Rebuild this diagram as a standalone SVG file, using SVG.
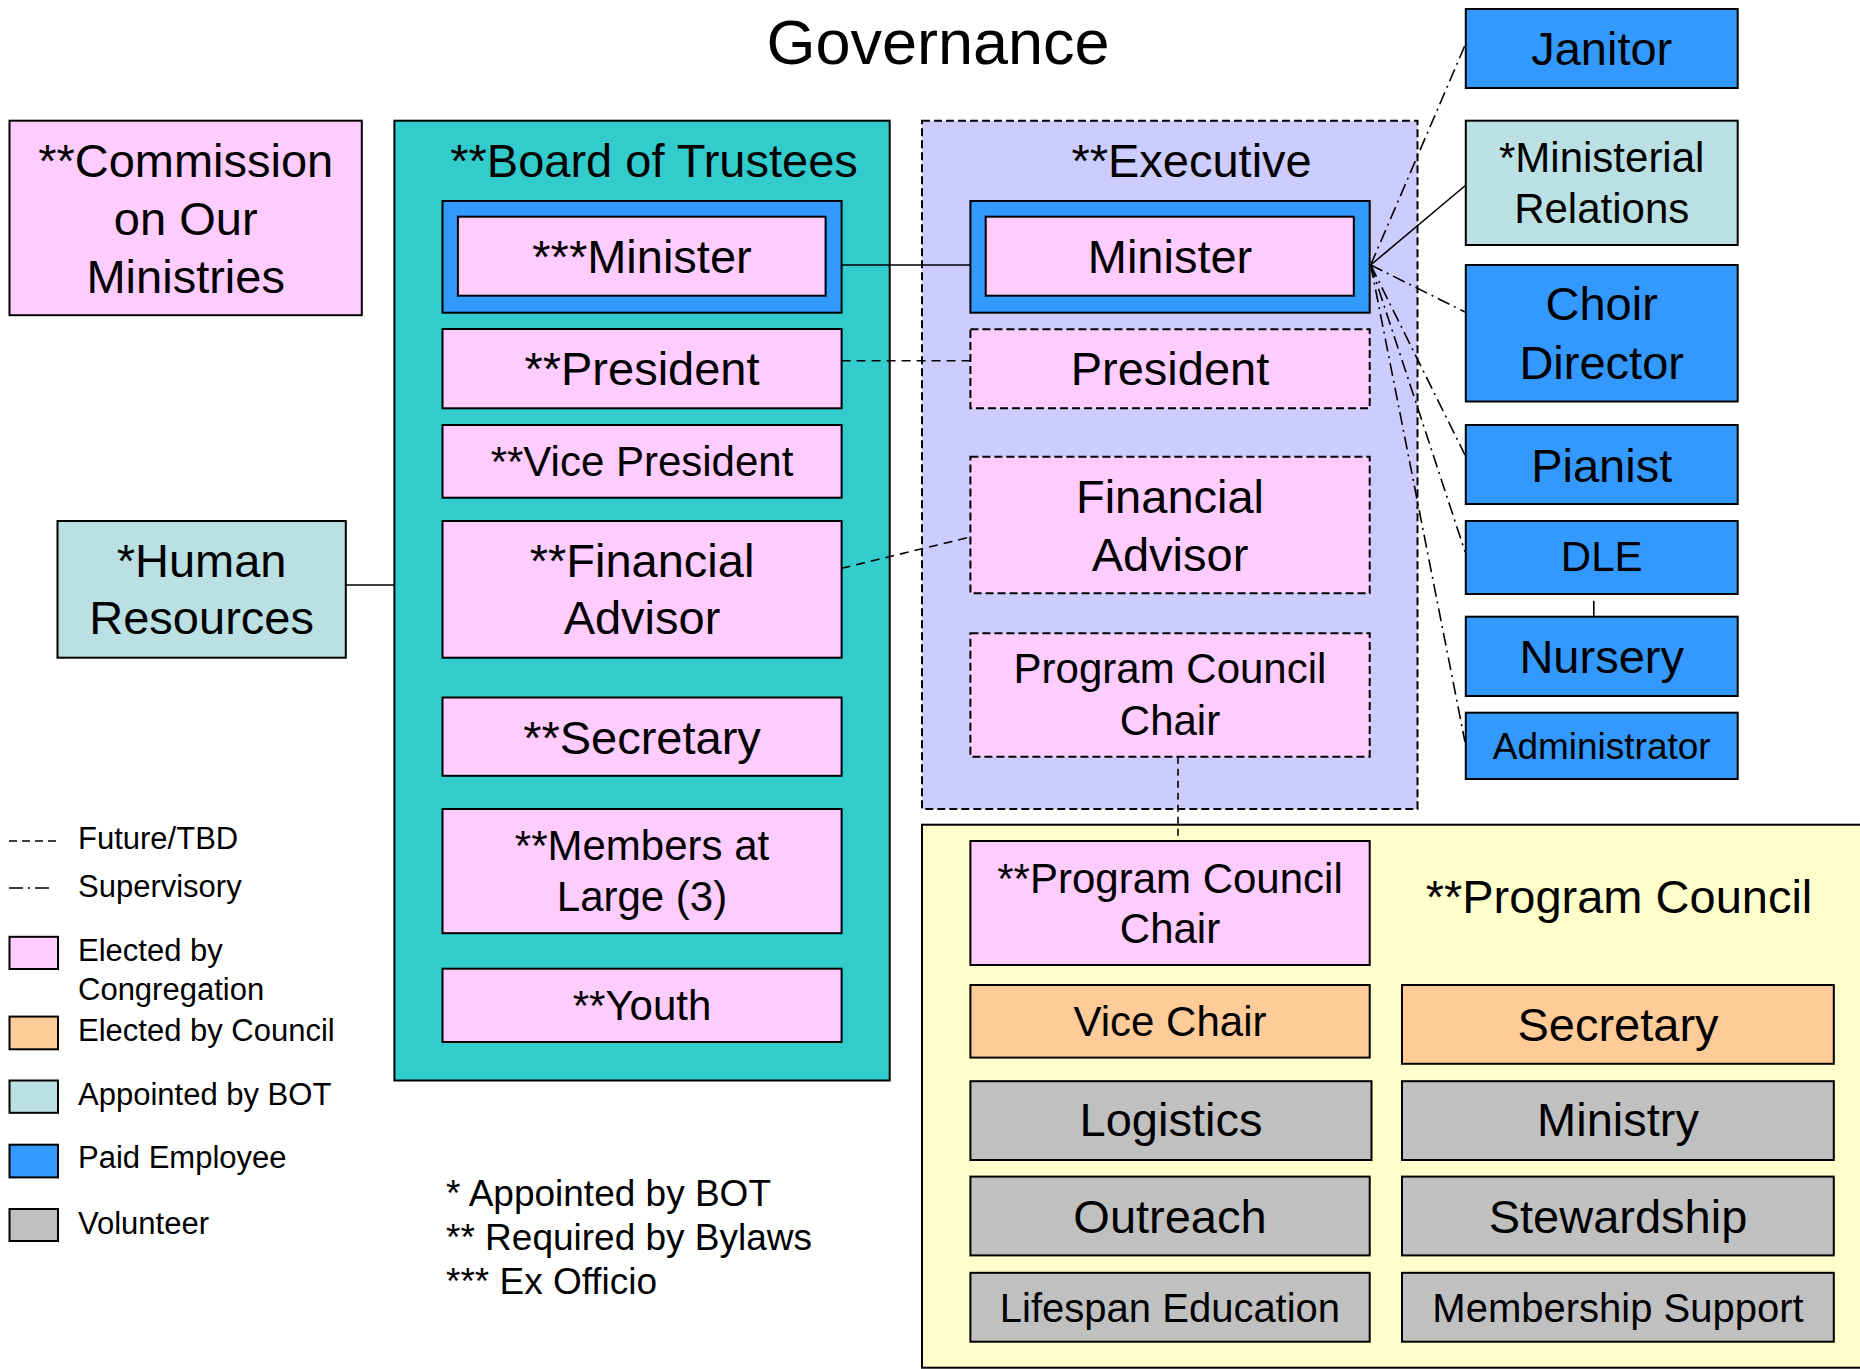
<svg xmlns="http://www.w3.org/2000/svg" width="1860" height="1369" viewBox="0 0 1860 1369">
<style>
rect{stroke:#000;stroke-width:2}
rect.bg{stroke:none;fill:#fff}
.d{stroke-dasharray:8 4}
.pk{fill:#FFCCFF}.tl{fill:#33CCCC}.bl{fill:#3399FF}.lb{fill:#BBE0E3}.lv{fill:#CCCCFF}.yl{fill:#FFFFCC}.or{fill:#FFCC99}.gy{fill:#C0C0C0}
text{font-family:"Liberation Sans",Arial,sans-serif;fill:#000}
.c{text-anchor:middle}
.s63{font-size:63px}.s47{font-size:47px}.s42{font-size:42px}.s40{font-size:40px}.s37{font-size:37px}.s31{font-size:31px}
.ln{stroke:#000;stroke-width:1.6;fill:none}
.dl{stroke-dasharray:9 6}
.dd{stroke-dasharray:13 5 2 5}
</style>
<rect class="bg" width="1860" height="1369"/>
<text class="c s63" x="938" y="64">Governance</text>

<g id="commission">
<rect class="pk" x="9.5" y="120.7" width="352.3" height="194.5"/>
<text class="c s47" x="185.7" y="177">**Commission</text>
<text class="c s47" x="185.7" y="235">on Our</text>
<text class="c s47" x="185.7" y="293">Ministries</text>
</g>

<g id="board-of-trustees">
<rect class="tl" x="394.4" y="120.7" width="495.3" height="959.8"/>
<text class="c s47" x="654" y="177">**Board of Trustees</text>
</g>

<g id="executive">
<rect class="lv d" x="922" y="120.7" width="495.5" height="688.3"/>
<text class="c s47" x="1191.6" y="177">**Executive</text>
</g>

<g id="program-council">
<rect class="yl" x="922" y="824.7" width="945" height="543"/>
<text class="c s47" x="1619" y="912.5">**Program Council</text>
</g>

<g id="connectors">
<line class="ln" x1="841.6" y1="265" x2="970.4" y2="265"/>
<line class="ln dl" x1="841.6" y1="360.7" x2="970.4" y2="360.7"/>
<line class="ln dl" x1="841.6" y1="568.3" x2="970.4" y2="537"/>
<line class="ln" x1="345.8" y1="585" x2="394.4" y2="585"/>
<line class="ln" x1="1178" y1="756.7" x2="1178" y2="840.7" stroke-dasharray="7 5"/>
<line class="ln" x1="1370.7" y1="265" x2="1466" y2="185"/>
<line class="ln dd" x1="1370.7" y1="265" x2="1466" y2="43"/>
<line class="ln dd" x1="1370.7" y1="265" x2="1465" y2="312"/>
<line class="ln dd" x1="1370.7" y1="265" x2="1465" y2="455"/>
<line class="ln dd" x1="1370.7" y1="265" x2="1465" y2="551.7"/>
<line class="ln dd" x1="1370.7" y1="265" x2="1465" y2="742"/>
<line class="ln" x1="1593.8" y1="600.7" x2="1593.8" y2="616.7"/>
</g>

<g id="bot-minister">
<rect class="bl" x="442.5" y="201" width="399.1" height="111.7"/>
<rect class="pk" x="457.9" y="216.7" width="367.7" height="79"/>
<text class="c s47" x="642" y="273">***Minister</text>
</g>
<g id="bot-president">
<rect class="pk" x="442.5" y="329" width="399.1" height="79.3"/>
<text class="c s47" x="642" y="385">**President</text>
</g>
<g id="bot-vice-president">
<rect class="pk" x="442.5" y="425" width="399.1" height="72.7"/>
<text class="c s42" x="642" y="476">**Vice President</text>
</g>
<g id="bot-financial-advisor">
<rect class="pk" x="442.5" y="521" width="399.1" height="136.7"/>
<text class="c s47" x="642" y="576.7">**Financial</text>
<text class="c s47" x="642" y="634.3">Advisor</text>
</g>
<g id="bot-secretary">
<rect class="pk" x="442.5" y="697.5" width="399.1" height="78.3"/>
<text class="c s47" x="642" y="754">**Secretary</text>
</g>
<g id="bot-members-at-large">
<rect class="pk" x="442.5" y="809" width="399.1" height="124.2"/>
<text class="c s42" x="642" y="860">**Members at</text>
<text class="c s42" x="642" y="910.7">Large (3)</text>
</g>
<g id="bot-youth">
<rect class="pk" x="442.5" y="968.7" width="399.1" height="73.3"/>
<text class="c s42" x="642" y="1019.5">**Youth</text>
</g>

<g id="human-resources">
<rect class="lb" x="57.5" y="521" width="288.3" height="136.7"/>
<text class="c s47" x="201.6" y="576.7">*Human</text>
<text class="c s47" x="201.6" y="634.3">Resources</text>
</g>

<g id="exec-minister">
<rect class="bl" x="970.4" y="201" width="399.3" height="111.7"/>
<rect class="pk" x="985.7" y="216.7" width="368.1" height="79"/>
<text class="c s47" x="1170" y="273">Minister</text>
</g>
<g id="exec-president">
<rect class="pk d" x="970.4" y="329.3" width="399.3" height="79"/>
<text class="c s47" x="1170" y="385">President</text>
</g>
<g id="exec-financial-advisor">
<rect class="pk d" x="970.4" y="456.7" width="399.3" height="136.6"/>
<text class="c s47" x="1170" y="513.3">Financial</text>
<text class="c s47" x="1170" y="570.7">Advisor</text>
</g>
<g id="exec-program-council-chair">
<rect class="pk d" x="970.4" y="633.3" width="399.3" height="123.4"/>
<text class="c s42" x="1170" y="683.3">Program Council</text>
<text class="c s42" x="1170" y="735">Chair</text>
</g>

<g id="janitor">
<rect class="bl" x="1465.8" y="9" width="271.9" height="79"/>
<text class="c s47" x="1601.7" y="65">Janitor</text>
</g>
<g id="ministerial-relations">
<rect class="lb" x="1465.8" y="120.7" width="271.9" height="124.3"/>
<text class="c s42" x="1601.7" y="172.3">*Ministerial</text>
<text class="c s42" x="1601.7" y="223.3">Relations</text>
</g>
<g id="choir-director">
<rect class="bl" x="1465.8" y="265" width="271.9" height="136.5"/>
<text class="c s47" x="1601.7" y="320">Choir</text>
<text class="c s47" x="1601.7" y="379.3">Director</text>
</g>
<g id="pianist">
<rect class="bl" x="1465.8" y="425" width="271.9" height="79"/>
<text class="c s47" x="1601.7" y="481.7">Pianist</text>
</g>
<g id="dle">
<rect class="bl" x="1465.8" y="521" width="271.9" height="73"/>
<text class="c s42" x="1601.7" y="570.7">DLE</text>
</g>
<g id="nursery">
<rect class="bl" x="1465.8" y="616.7" width="271.9" height="79.3"/>
<text class="c s47" x="1601.7" y="673.3">Nursery</text>
</g>
<g id="administrator">
<rect class="bl" x="1465.8" y="712.7" width="271.9" height="66.3"/>
<text class="c s37" x="1601.7" y="759.3">Administrator</text>
</g>

<g id="pc-chair">
<rect class="pk" x="970.4" y="841" width="399.3" height="124"/>
<text class="c s42" x="1170" y="892.5">**Program Council</text>
<text class="c s42" x="1170" y="943.3">Chair</text>
</g>
<g id="pc-vice-chair">
<rect class="or" x="970.4" y="985" width="399.3" height="72.6"/>
<text class="c s42" x="1170" y="1035.8">Vice Chair</text>
</g>
<g id="pc-secretary">
<rect class="or" x="1402" y="985" width="431.8" height="78.8"/>
<text class="c s47" x="1618" y="1041.3">Secretary</text>
</g>
<g id="pc-logistics">
<rect class="gy" x="970.4" y="1081.2" width="401.1" height="78.8"/>
<text class="c s47" x="1171" y="1135.6">Logistics</text>
</g>
<g id="pc-ministry">
<rect class="gy" x="1402" y="1081.2" width="431.8" height="78.8"/>
<text class="c s47" x="1618" y="1135.6">Ministry</text>
</g>
<g id="pc-outreach">
<rect class="gy" x="970.4" y="1176.6" width="399.3" height="78.8"/>
<text class="c s47" x="1170" y="1232.5">Outreach</text>
</g>
<g id="pc-stewardship">
<rect class="gy" x="1402" y="1176.6" width="431.8" height="78.8"/>
<text class="c s47" x="1618" y="1232.5">Stewardship</text>
</g>
<g id="pc-lifespan-education">
<rect class="gy" x="970.4" y="1272.8" width="399.3" height="68.9"/>
<text class="c s40" x="1170" y="1321.8">Lifespan Education</text>
</g>
<g id="pc-membership-support">
<rect class="gy" x="1402" y="1272.8" width="431.8" height="68.9"/>
<text class="c s40" x="1618" y="1321.8">Membership Support</text>
</g>

<g id="legend">
<line class="ln" x1="9" y1="841" x2="58" y2="841" stroke-dasharray="8 5"/>
<text class="s31" x="78" y="849">Future/TBD</text>
<line class="ln" x1="9" y1="888" x2="50" y2="888" stroke-dasharray="14 5 2 5"/>
<text class="s31" x="78" y="897">Supervisory</text>
<rect class="pk" x="9.5" y="936.8" width="48.5" height="32.2"/>
<text class="s31" x="78" y="960.7">Elected by</text>
<text class="s31" x="78" y="999.6">Congregation</text>
<rect class="or" x="9.5" y="1016.6" width="48.5" height="32.7"/>
<text class="s31" x="78" y="1041.3">Elected by Council</text>
<rect class="lb" x="9.5" y="1080.5" width="48.5" height="32.3"/>
<text class="s31" x="78" y="1104.8">Appointed by BOT</text>
<rect class="bl" x="9.5" y="1144.7" width="48.5" height="32.7"/>
<text class="s31" x="78" y="1168">Paid Employee</text>
<rect class="gy" x="9.5" y="1209" width="48.5" height="32"/>
<text class="s31" x="78" y="1233.6">Volunteer</text>
</g>

<g id="footnotes">
<text class="s37" x="446" y="1205.6">* Appointed by BOT</text>
<text class="s37" x="446" y="1250">** Required by Bylaws</text>
<text class="s37" x="446" y="1294">*** Ex Officio</text>
</g>
</svg>
